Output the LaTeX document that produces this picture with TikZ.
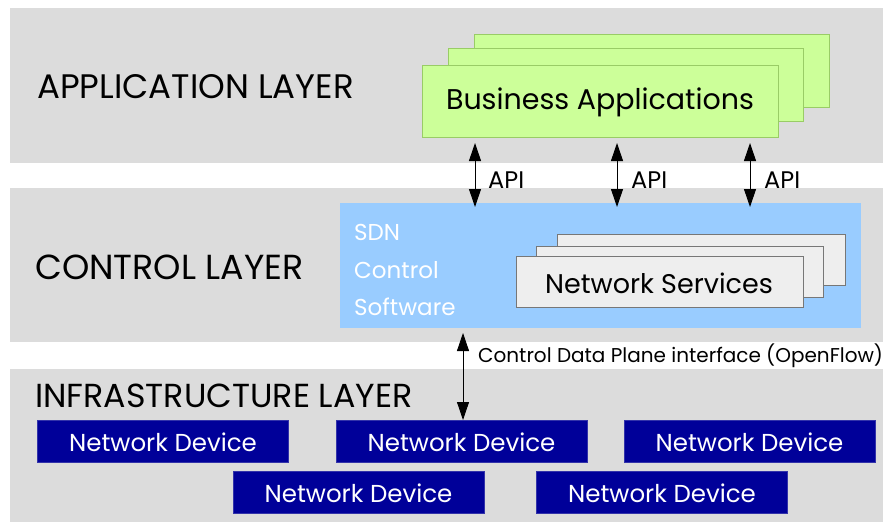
\documentclass[tikz,border=0pt]{standalone}
\usepackage{fontspec}
\setmainfont{Poppins}
\usetikzlibrary{arrows.meta,calc}
\definecolor{band}{HTML}{DCDCDC}
\definecolor{appgreen}{HTML}{CCFF99}
\definecolor{appborder}{HTML}{99CC66}
\definecolor{ctrlblue}{HTML}{99CCFF}
\definecolor{svcgray}{HTML}{EEEEEE}
\definecolor{svcborder}{HTML}{777777}
\definecolor{devblue}{HTML}{000099}
\definecolor{devborder}{HTML}{3333AA}
\tikzset{
  box/.style={rectangle,inner sep=0pt,outer sep=0pt},
  layerband/.style={box,fill=band},
  appbox/.style={box,fill=appgreen,draw=appborder,line width=0.8pt},
  svcbox/.style={box,fill=svcgray,draw=svcborder,line width=0.8pt},
  ctrlbox/.style={box,fill=ctrlblue},
  devbox/.style={box,fill=devblue,draw=devborder,line width=0.8pt,minimum width=251pt,minimum height=42pt},
  devtext/.style={inner sep=0pt,text=white,font=\fontsize{24.5}{28}\selectfont},
  layertitle/.style={anchor=west,inner sep=0pt,font=\fontsize{34}{40}\selectfont},
  dblarrow/.style={line width=1pt,{Triangle[length=18pt,width=12pt]}-{Triangle[length=18pt,width=12pt]}},
  apilabel/.style={anchor=west,inner sep=0pt,font=\fontsize{24}{28}\selectfont}
}
\begin{document}
\begin{tikzpicture}[x=1pt,y=-1pt]
\useasboundingbox (0,0) rectangle (883,522);
% layer bands
\node[layerband,minimum width=873pt,minimum height=155pt] (appband) at (446.5,85.5) {};
\node[layerband,minimum width=873pt,minimum height=154pt] (ctrlband) at (446.5,265) {};
\node[layerband,minimum width=873pt,minimum height=153pt] (infband) at (446.5,445.5) {};
% layer titles
\node[layertitle] (apptitle) at (37,87) {APPLICATION LAYER};
\node[layertitle,font=\fontsize{34.8}{40}\selectfont] (ctrltitle) at (35,267) {CONTROL LAYER};
\node[layertitle,font=\fontsize{33.3}{40}\selectfont] (inftitle) at (35,396) {INFRASTRUCTURE LAYER};
% business applications stack
\node[appbox,minimum width=355pt,minimum height=73pt] (ba3) at (651.5,70.5) {};
\node[appbox,minimum width=355pt,minimum height=73pt] (ba2) at (625.5,85) {};
\node[appbox,minimum width=356pt,minimum height=72pt] (ba) at (600,101) {};
\node[inner sep=0pt,font=\fontsize{28.5}{32}\selectfont] (batext) at (600,102) {Business Applications};
% control software
\node[ctrlbox,minimum width=521pt,minimum height=125pt] (sdn) at (600.5,265.5) {};
\node[anchor=west,inner sep=0pt,align=left,text=white,font=\fontsize{23}{37.5}\selectfont] (sdntext) at (354,270) {SDN\\Control\\Software};
% network services stack
\node[svcbox,minimum width=288pt,minimum height=51pt] (ns3) at (701,259.5) {};
\node[svcbox,minimum width=287pt,minimum height=51pt] (ns2) at (679.5,271.5) {};
\node[svcbox,minimum width=287pt,minimum height=51pt] (ns) at (659.5,281.5) {};
\node[inner sep=0pt,font=\fontsize{27}{30}\selectfont] (nstext) at (659,283) {Network Services};
% API arrows
\coordinate (x1) at (475,0);
\coordinate (x2) at (617,0);
\coordinate (x3) at (750,0);
\draw[dblarrow] ([yshift=-6pt]ba.south -| x1) -- ([yshift=-4pt]sdn.north -| x1);
\draw[dblarrow] ([yshift=-6pt]ba.south -| x2) -- ([yshift=-4pt]sdn.north -| x2);
\draw[dblarrow] ([yshift=-6pt]ba.south -| x3) -- ([yshift=-4pt]sdn.north -| x3);
\node[apilabel] (api1) at (488,180) {API};
\node[apilabel] (api2) at (631,180) {API};
\node[apilabel] (api3) at (764,180) {API};
% network devices
\node[devbox] (d1) at (163,441) {};
\node[devbox] (d2) at (461.5,441) {};
\node[devbox] (d3) at (749.5,441) {};
\node[devbox] (d4) at (358.5,492.5) {};
\node[devbox] (d5) at (662,492.5) {};
\foreach \d in {d1,d2,d3,d4,d5}
  \node[devtext] at ([yshift=-1pt]\d.center) {Network Device};
% control data plane arrow
\coordinate (x4) at (463,0);
\draw[dblarrow,line width=0.8pt] ([yshift=-5pt]sdn.south -| x4) -- (d2.north -| x4);
\node[anchor=west,inner sep=0pt,font=\fontsize{20}{24}\selectfont] (cdpi) at (478,356) {Control Data Plane interface (OpenFlow)};
\end{tikzpicture}
\end{document}
